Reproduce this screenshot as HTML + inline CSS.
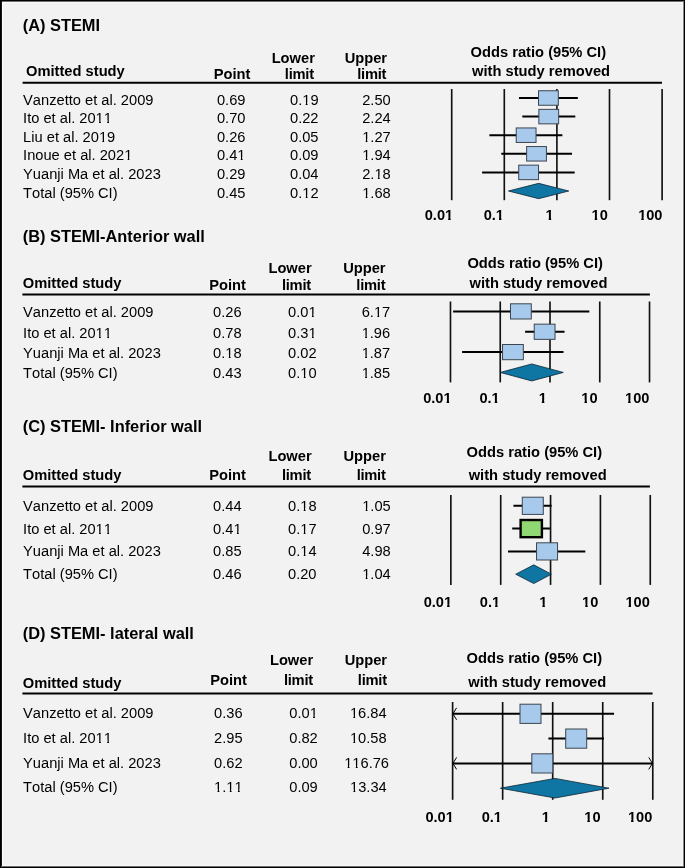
<!DOCTYPE html>
<html><head><meta charset="utf-8"><style>
html,body{margin:0;padding:0;}
body{width:685px;height:868px;position:relative;overflow:hidden;background:#f2f2f2;font-family:"Liberation Sans", sans-serif;color:#000;font-kerning:none;font-feature-settings:'kern' 0;}
.b{position:absolute;}
.t{position:absolute;white-space:nowrap;}
.txt{position:absolute;left:0;top:0;width:685px;height:868px;will-change:transform;}
svg{position:absolute;left:0;top:0;}
.or{clip-path:polygon(-3px -3px,11.23px -3px,11.23px 10px,5.28px 10px,5.28px 20px,3.47px 20px,3.47px 10px,-3px 10px);}
.ob{clip-path:polygon(-3px -3px,11.06px -3px,11.06px 10px,5.62px 10px,5.62px 20px,3.13px 20px,3.13px 10px,-3px 10px);}

</style></head><body>
<div class="b" style="left:0;top:0;width:685px;height:1px;background:#000"></div>
<div class="b" style="left:2px;top:1px;width:681px;height:1px;background:#6e6e6e"></div>
<div class="b" style="left:3px;top:2px;width:679px;height:1px;background:#fbfbfb"></div>
<div class="b" style="left:0;top:0;width:1px;height:868px;background:#000"></div>
<div class="b" style="left:1px;top:1px;width:1px;height:866px;background:#161616"></div>
<div class="b" style="left:2px;top:2px;width:1px;height:864px;background:#fdfdfd"></div>
<div class="b" style="left:684px;top:0;width:1px;height:868px;background:#000"></div>
<div class="b" style="left:683px;top:1px;width:1px;height:866px;background:#858585"></div>
<div class="b" style="left:682px;top:2px;width:1px;height:864px;background:#f7f7f7"></div>
<div class="b" style="left:0;top:867px;width:685px;height:1px;background:#000"></div>
<div class="b" style="left:1px;top:866px;width:683px;height:1px;background:#6a6a6a"></div>
<div class="b" style="left:3px;top:865px;width:679px;height:1px;background:#f9f9f9"></div>
<svg width="685" height="868" viewBox="0 0 685 868">
<line x1="22.60" y1="82.70" x2="662.00" y2="82.70" stroke="#000" stroke-width="2"/>
<line x1="451.70" y1="89.00" x2="451.70" y2="200.20" stroke="#111" stroke-width="1.65"/>
<line x1="504.30" y1="89.00" x2="504.30" y2="200.20" stroke="#111" stroke-width="1.65"/>
<line x1="556.90" y1="89.00" x2="556.90" y2="200.20" stroke="#111" stroke-width="1.65"/>
<line x1="609.50" y1="89.00" x2="609.50" y2="200.20" stroke="#111" stroke-width="1.65"/>
<line x1="662.10" y1="89.00" x2="662.10" y2="200.20" stroke="#111" stroke-width="1.65"/>
<line x1="518.96" y1="98.00" x2="577.83" y2="98.00" stroke="#000" stroke-width="2"/>
<rect x="538.52" y="90.75" width="19.80" height="14.50" fill="#a6c9ec" stroke="#3c4650" stroke-width="1"/>
<line x1="522.31" y1="116.60" x2="575.32" y2="116.60" stroke="#000" stroke-width="2"/>
<rect x="538.85" y="109.35" width="19.80" height="14.50" fill="#a6c9ec" stroke="#3c4650" stroke-width="1"/>
<line x1="489.40" y1="135.20" x2="562.36" y2="135.20" stroke="#000" stroke-width="2"/>
<rect x="516.23" y="127.95" width="19.80" height="14.50" fill="#a6c9ec" stroke="#3c4650" stroke-width="1"/>
<line x1="501.30" y1="153.80" x2="572.04" y2="153.80" stroke="#000" stroke-width="2"/>
<rect x="526.63" y="146.55" width="19.80" height="14.50" fill="#a6c9ec" stroke="#3c4650" stroke-width="1"/>
<line x1="482.10" y1="172.40" x2="574.70" y2="172.40" stroke="#000" stroke-width="2"/>
<rect x="518.72" y="165.15" width="19.80" height="14.50" fill="#a6c9ec" stroke="#3c4650" stroke-width="1"/>
<polygon points="508.46,191.00 538.66,183.35 568.75,191.00 538.66,198.65" fill="#0f75a3" stroke="#0d2633" stroke-width="0.8"/>
<line x1="22.40" y1="294.40" x2="649.90" y2="294.40" stroke="#000" stroke-width="2"/>
<line x1="450.48" y1="301.50" x2="450.48" y2="382.40" stroke="#111" stroke-width="1.65"/>
<line x1="500.24" y1="301.50" x2="500.24" y2="382.40" stroke="#111" stroke-width="1.65"/>
<line x1="550.00" y1="301.50" x2="550.00" y2="382.40" stroke="#111" stroke-width="1.65"/>
<line x1="599.76" y1="301.50" x2="599.76" y2="382.40" stroke="#111" stroke-width="1.65"/>
<line x1="649.52" y1="301.50" x2="649.52" y2="382.40" stroke="#111" stroke-width="1.65"/>
<line x1="453.10" y1="311.40" x2="589.32" y2="311.40" stroke="#000" stroke-width="2"/>
<rect x="510.49" y="303.80" width="20.80" height="15.20" fill="#a6c9ec" stroke="#3c4650" stroke-width="1"/>
<line x1="525.10" y1="331.75" x2="564.54" y2="331.75" stroke="#000" stroke-width="2"/>
<rect x="534.23" y="324.15" width="20.80" height="15.20" fill="#a6c9ec" stroke="#3c4650" stroke-width="1"/>
<line x1="462.10" y1="352.10" x2="563.53" y2="352.10" stroke="#000" stroke-width="2"/>
<rect x="502.54" y="344.50" width="20.80" height="15.20" fill="#a6c9ec" stroke="#3c4650" stroke-width="1"/>
<polygon points="500.24,372.45 531.76,363.95 563.29,372.45 531.76,380.95" fill="#0f75a3" stroke="#0d2633" stroke-width="0.8"/>
<line x1="22.40" y1="486.50" x2="649.90" y2="486.50" stroke="#000" stroke-width="2"/>
<line x1="450.86" y1="495.00" x2="450.86" y2="584.90" stroke="#111" stroke-width="1.65"/>
<line x1="500.71" y1="495.00" x2="500.71" y2="584.90" stroke="#111" stroke-width="1.65"/>
<line x1="550.56" y1="495.00" x2="550.56" y2="584.90" stroke="#111" stroke-width="1.65"/>
<line x1="600.41" y1="495.00" x2="600.41" y2="584.90" stroke="#111" stroke-width="1.65"/>
<line x1="650.26" y1="495.00" x2="650.26" y2="584.90" stroke="#111" stroke-width="1.65"/>
<line x1="513.44" y1="505.80" x2="551.62" y2="505.80" stroke="#000" stroke-width="2"/>
<rect x="522.29" y="497.20" width="21.00" height="17.20" fill="#a6c9ec" stroke="#3c4650" stroke-width="1"/>
<line x1="512.20" y1="528.60" x2="549.90" y2="528.60" stroke="#000" stroke-width="2"/>
<rect x="520.61" y="520.00" width="21.30" height="17.20" fill="#8fd874" stroke="#000" stroke-width="2.4"/>
<line x1="507.99" y1="551.40" x2="585.32" y2="551.40" stroke="#000" stroke-width="2"/>
<rect x="536.54" y="542.80" width="21.00" height="17.20" fill="#a6c9ec" stroke="#3c4650" stroke-width="1"/>
<polygon points="515.72,574.20 533.75,564.85 551.41,574.20 533.75,583.55" fill="#0f75a3" stroke="#0d2633" stroke-width="0.8"/>
<line x1="22.40" y1="693.40" x2="652.60" y2="693.40" stroke="#000" stroke-width="2"/>
<line x1="452.62" y1="702.00" x2="452.62" y2="799.80" stroke="#111" stroke-width="1.65"/>
<line x1="502.66" y1="702.00" x2="502.66" y2="799.80" stroke="#111" stroke-width="1.65"/>
<line x1="552.70" y1="702.00" x2="552.70" y2="799.80" stroke="#111" stroke-width="1.65"/>
<line x1="602.74" y1="702.00" x2="602.74" y2="799.80" stroke="#111" stroke-width="1.65"/>
<line x1="652.78" y1="702.00" x2="652.78" y2="799.80" stroke="#111" stroke-width="1.65"/>
<line x1="452.62" y1="713.80" x2="614.07" y2="713.80" stroke="#000" stroke-width="2"/>
<polyline points="456.62,707.80 452.92,713.80 456.62,719.80" fill="none" stroke="#000" stroke-width="1"/>
<rect x="520.00" y="704.20" width="21.00" height="19.20" fill="#a6c9ec" stroke="#3c4650" stroke-width="1"/>
<line x1="548.39" y1="738.60" x2="603.97" y2="738.60" stroke="#000" stroke-width="2"/>
<rect x="565.71" y="729.00" width="21.00" height="19.20" fill="#a6c9ec" stroke="#3c4650" stroke-width="1"/>
<line x1="452.62" y1="763.40" x2="652.78" y2="763.40" stroke="#000" stroke-width="2"/>
<polyline points="456.62,757.40 452.92,763.40 456.62,769.40" fill="none" stroke="#000" stroke-width="1"/>
<polyline points="648.78,757.40 652.48,763.40 648.78,769.40" fill="none" stroke="#000" stroke-width="1"/>
<rect x="531.81" y="753.80" width="21.00" height="19.20" fill="#a6c9ec" stroke="#3c4650" stroke-width="1"/>
<polygon points="500.37,788.20 554.97,778.40 609.00,788.20 554.97,798.00" fill="#0f75a3" stroke="#0d2633" stroke-width="0.8"/>
</svg>
<div class="txt">
<div class="t" style="left:22.68px;top:17.00px;font-size:16.4px;line-height:16.4px;font-weight:bold;">(A) STEMI</div>
<div class="t" style="left:26.01px;top:64.00px;font-size:14.7px;line-height:14.7px;font-weight:bold;">Omitted study</div>
<div class="t" style="left:213.64px;top:67.00px;font-size:14.7px;line-height:14.7px;font-weight:bold;">Point</div>
<div class="t" style="left:271.63px;top:51.00px;font-size:14.7px;line-height:14.7px;font-weight:bold;">Lower</div>
<div class="t" style="left:284.84px;top:67.00px;font-size:14.7px;line-height:14.7px;font-weight:bold;letter-spacing:-0.25px;">limit</div>
<div class="t" style="left:344.64px;top:51.00px;font-size:14.7px;line-height:14.7px;font-weight:bold;">Upper</div>
<div class="t" style="left:357.24px;top:67.00px;font-size:14.7px;line-height:14.7px;font-weight:bold;letter-spacing:-0.25px;">limit</div>
<div class="t" style="left:470.61px;top:45.00px;font-size:14.7px;line-height:14.7px;font-weight:bold;">Odds ratio (95% CI)</div>
<div class="t" style="left:472.10px;top:64.00px;font-size:14.7px;line-height:14.7px;font-weight:bold;">with study removed</div>
<div class="t" style="left:23.10px;top:93.00px;font-size:14.67px;line-height:14.67px;">Vanzetto et al. 2009</div>
<div class="t" style="left:216.95px;top:93.00px;font-size:14.67px;line-height:14.67px;">0.69</div>
<div class="t" style="left:290.00px;top:93.00px;font-size:14.67px;line-height:14.67px;">0.<span class="or">1</span>9</div>
<div class="t" style="left:362.20px;top:93.00px;font-size:14.67px;line-height:14.67px;">2.50</div>
<div class="t" style="left:23.10px;top:111.00px;font-size:14.67px;line-height:14.67px;">Ito et al. 20<span class="or">1</span><span class="or">1</span></div>
<div class="t" style="left:216.95px;top:111.00px;font-size:14.67px;line-height:14.67px;">0.70</div>
<div class="t" style="left:290.00px;top:111.00px;font-size:14.67px;line-height:14.67px;">0.22</div>
<div class="t" style="left:362.20px;top:111.00px;font-size:14.67px;line-height:14.67px;">2.24</div>
<div class="t" style="left:23.10px;top:130.00px;font-size:14.67px;line-height:14.67px;">Liu et al. 20<span class="or">1</span>9</div>
<div class="t" style="left:216.95px;top:130.00px;font-size:14.67px;line-height:14.67px;">0.26</div>
<div class="t" style="left:290.00px;top:130.00px;font-size:14.67px;line-height:14.67px;">0.05</div>
<div class="t" style="left:362.20px;top:130.00px;font-size:14.67px;line-height:14.67px;"><span class="or">1</span>.27</div>
<div class="t" style="left:23.10px;top:148.00px;font-size:14.67px;line-height:14.67px;">Inoue et al. 202<span class="or">1</span></div>
<div class="t" style="left:216.95px;top:148.00px;font-size:14.67px;line-height:14.67px;">0.4<span class="or">1</span></div>
<div class="t" style="left:290.00px;top:148.00px;font-size:14.67px;line-height:14.67px;">0.09</div>
<div class="t" style="left:362.20px;top:148.00px;font-size:14.67px;line-height:14.67px;"><span class="or">1</span>.94</div>
<div class="t" style="left:23.10px;top:167.00px;font-size:14.67px;line-height:14.67px;">Yuanji Ma et al. 2023</div>
<div class="t" style="left:216.95px;top:167.00px;font-size:14.67px;line-height:14.67px;">0.29</div>
<div class="t" style="left:290.00px;top:167.00px;font-size:14.67px;line-height:14.67px;">0.04</div>
<div class="t" style="left:362.20px;top:167.00px;font-size:14.67px;line-height:14.67px;">2.<span class="or">1</span>8</div>
<div class="t" style="left:23.10px;top:186.00px;font-size:14.67px;line-height:14.67px;">Total (95% CI)</div>
<div class="t" style="left:216.95px;top:186.00px;font-size:14.67px;line-height:14.67px;">0.45</div>
<div class="t" style="left:290.00px;top:186.00px;font-size:14.67px;line-height:14.67px;">0.<span class="or">1</span>2</div>
<div class="t" style="left:362.20px;top:186.00px;font-size:14.67px;line-height:14.67px;"><span class="or">1</span>.68</div>
<div class="t" style="left:424.75px;top:208.00px;font-size:14.6px;line-height:14.6px;font-weight:bold;">0.0<span class="ob">1</span></div>
<div class="t" style="left:483.68px;top:208.00px;font-size:14.6px;line-height:14.6px;font-weight:bold;">0.<span class="ob">1</span></div>
<div class="t" style="left:545.56px;top:208.00px;font-size:14.6px;line-height:14.6px;font-weight:bold;"><span class="ob">1</span></div>
<div class="t" style="left:591.56px;top:208.00px;font-size:14.6px;line-height:14.6px;font-weight:bold;"><span class="ob">1</span>0</div>
<div class="t" style="left:638.13px;top:208.00px;font-size:14.6px;line-height:14.6px;font-weight:bold;"><span class="ob">1</span>00</div>
<div class="t" style="left:22.68px;top:228.00px;font-size:16.4px;line-height:16.4px;font-weight:bold;">(B) STEMI-Anterior wall</div>
<div class="t" style="left:22.71px;top:276.00px;font-size:14.7px;line-height:14.7px;font-weight:bold;">Omitted study</div>
<div class="t" style="left:209.24px;top:278.00px;font-size:14.7px;line-height:14.7px;font-weight:bold;">Point</div>
<div class="t" style="left:268.43px;top:261.00px;font-size:14.7px;line-height:14.7px;font-weight:bold;">Lower</div>
<div class="t" style="left:281.94px;top:278.00px;font-size:14.7px;line-height:14.7px;font-weight:bold;letter-spacing:-0.25px;">limit</div>
<div class="t" style="left:343.14px;top:261.00px;font-size:14.7px;line-height:14.7px;font-weight:bold;">Upper</div>
<div class="t" style="left:356.34px;top:278.00px;font-size:14.7px;line-height:14.7px;font-weight:bold;letter-spacing:-0.25px;">limit</div>
<div class="t" style="left:467.41px;top:256.00px;font-size:14.7px;line-height:14.7px;font-weight:bold;">Odds ratio (95% CI)</div>
<div class="t" style="left:469.50px;top:276.00px;font-size:14.7px;line-height:14.7px;font-weight:bold;">with study removed</div>
<div class="t" style="left:23.10px;top:305.00px;font-size:14.67px;line-height:14.67px;">Vanzetto et al. 2009</div>
<div class="t" style="left:213.10px;top:305.00px;font-size:14.67px;line-height:14.67px;">0.26</div>
<div class="t" style="left:288.10px;top:305.00px;font-size:14.67px;line-height:14.67px;">0.0<span class="or">1</span></div>
<div class="t" style="left:361.65px;top:305.00px;font-size:14.67px;line-height:14.67px;">6.<span class="or">1</span>7</div>
<div class="t" style="left:23.10px;top:326.00px;font-size:14.67px;line-height:14.67px;">Ito et al. 20<span class="or">1</span><span class="or">1</span></div>
<div class="t" style="left:213.10px;top:326.00px;font-size:14.67px;line-height:14.67px;">0.78</div>
<div class="t" style="left:288.10px;top:326.00px;font-size:14.67px;line-height:14.67px;">0.3<span class="or">1</span></div>
<div class="t" style="left:361.65px;top:326.00px;font-size:14.67px;line-height:14.67px;"><span class="or">1</span>.96</div>
<div class="t" style="left:23.10px;top:346.00px;font-size:14.67px;line-height:14.67px;">Yuanji Ma et al. 2023</div>
<div class="t" style="left:213.10px;top:346.00px;font-size:14.67px;line-height:14.67px;">0.<span class="or">1</span>8</div>
<div class="t" style="left:288.10px;top:346.00px;font-size:14.67px;line-height:14.67px;">0.02</div>
<div class="t" style="left:361.65px;top:346.00px;font-size:14.67px;line-height:14.67px;"><span class="or">1</span>.87</div>
<div class="t" style="left:23.10px;top:366.00px;font-size:14.67px;line-height:14.67px;">Total (95% CI)</div>
<div class="t" style="left:213.10px;top:366.00px;font-size:14.67px;line-height:14.67px;">0.43</div>
<div class="t" style="left:288.10px;top:366.00px;font-size:14.67px;line-height:14.67px;">0.<span class="or">1</span>0</div>
<div class="t" style="left:361.65px;top:366.00px;font-size:14.67px;line-height:14.67px;"><span class="or">1</span>.85</div>
<div class="t" style="left:423.20px;top:391.00px;font-size:14.6px;line-height:14.6px;font-weight:bold;">0.0<span class="ob">1</span></div>
<div class="t" style="left:479.43px;top:391.00px;font-size:14.6px;line-height:14.6px;font-weight:bold;">0.<span class="ob">1</span></div>
<div class="t" style="left:538.71px;top:391.00px;font-size:14.6px;line-height:14.6px;font-weight:bold;"><span class="ob">1</span></div>
<div class="t" style="left:581.36px;top:391.00px;font-size:14.6px;line-height:14.6px;font-weight:bold;"><span class="ob">1</span>0</div>
<div class="t" style="left:625.03px;top:391.00px;font-size:14.6px;line-height:14.6px;font-weight:bold;"><span class="ob">1</span>00</div>
<div class="t" style="left:22.68px;top:418.00px;font-size:16.4px;line-height:16.4px;font-weight:bold;">(C) STEMI- Inferior wall</div>
<div class="t" style="left:22.71px;top:468.00px;font-size:14.7px;line-height:14.7px;font-weight:bold;">Omitted study</div>
<div class="t" style="left:209.24px;top:468.00px;font-size:14.7px;line-height:14.7px;font-weight:bold;">Point</div>
<div class="t" style="left:268.43px;top:449.00px;font-size:14.7px;line-height:14.7px;font-weight:bold;">Lower</div>
<div class="t" style="left:281.94px;top:468.00px;font-size:14.7px;line-height:14.7px;font-weight:bold;letter-spacing:-0.25px;">limit</div>
<div class="t" style="left:343.44px;top:449.00px;font-size:14.7px;line-height:14.7px;font-weight:bold;">Upper</div>
<div class="t" style="left:356.64px;top:468.00px;font-size:14.7px;line-height:14.7px;font-weight:bold;letter-spacing:-0.25px;">limit</div>
<div class="t" style="left:466.61px;top:445.00px;font-size:14.7px;line-height:14.7px;font-weight:bold;">Odds ratio (95% CI)</div>
<div class="t" style="left:468.70px;top:468.00px;font-size:14.7px;line-height:14.7px;font-weight:bold;">with study removed</div>
<div class="t" style="left:23.10px;top:499.00px;font-size:14.67px;line-height:14.67px;">Vanzetto et al. 2009</div>
<div class="t" style="left:213.10px;top:499.00px;font-size:14.67px;line-height:14.67px;">0.44</div>
<div class="t" style="left:288.00px;top:499.00px;font-size:14.67px;line-height:14.67px;">0.<span class="or">1</span>8</div>
<div class="t" style="left:362.20px;top:499.00px;font-size:14.67px;line-height:14.67px;"><span class="or">1</span>.05</div>
<div class="t" style="left:23.10px;top:522.00px;font-size:14.67px;line-height:14.67px;">Ito et al. 20<span class="or">1</span><span class="or">1</span></div>
<div class="t" style="left:213.10px;top:522.00px;font-size:14.67px;line-height:14.67px;">0.4<span class="or">1</span></div>
<div class="t" style="left:288.00px;top:522.00px;font-size:14.67px;line-height:14.67px;">0.<span class="or">1</span>7</div>
<div class="t" style="left:362.20px;top:522.00px;font-size:14.67px;line-height:14.67px;">0.97</div>
<div class="t" style="left:23.10px;top:544.00px;font-size:14.67px;line-height:14.67px;">Yuanji Ma et al. 2023</div>
<div class="t" style="left:213.10px;top:544.00px;font-size:14.67px;line-height:14.67px;">0.85</div>
<div class="t" style="left:288.00px;top:544.00px;font-size:14.67px;line-height:14.67px;">0.<span class="or">1</span>4</div>
<div class="t" style="left:362.20px;top:544.00px;font-size:14.67px;line-height:14.67px;">4.98</div>
<div class="t" style="left:23.10px;top:567.00px;font-size:14.67px;line-height:14.67px;">Total (95% CI)</div>
<div class="t" style="left:213.10px;top:567.00px;font-size:14.67px;line-height:14.67px;">0.46</div>
<div class="t" style="left:288.00px;top:567.00px;font-size:14.67px;line-height:14.67px;">0.20</div>
<div class="t" style="left:362.20px;top:567.00px;font-size:14.67px;line-height:14.67px;"><span class="or">1</span>.04</div>
<div class="t" style="left:423.70px;top:595.00px;font-size:14.6px;line-height:14.6px;font-weight:bold;">0.0<span class="ob">1</span></div>
<div class="t" style="left:479.83px;top:595.00px;font-size:14.6px;line-height:14.6px;font-weight:bold;">0.<span class="ob">1</span></div>
<div class="t" style="left:539.26px;top:595.00px;font-size:14.6px;line-height:14.6px;font-weight:bold;"><span class="ob">1</span></div>
<div class="t" style="left:582.11px;top:595.00px;font-size:14.6px;line-height:14.6px;font-weight:bold;"><span class="ob">1</span>0</div>
<div class="t" style="left:625.43px;top:595.00px;font-size:14.6px;line-height:14.6px;font-weight:bold;"><span class="ob">1</span>00</div>
<div class="t" style="left:22.68px;top:625.00px;font-size:16.4px;line-height:16.4px;font-weight:bold;">(D) STEMI- lateral wall</div>
<div class="t" style="left:22.71px;top:676.00px;font-size:14.7px;line-height:14.7px;font-weight:bold;">Omitted study</div>
<div class="t" style="left:210.14px;top:673.00px;font-size:14.7px;line-height:14.7px;font-weight:bold;">Point</div>
<div class="t" style="left:269.93px;top:653.00px;font-size:14.7px;line-height:14.7px;font-weight:bold;">Lower</div>
<div class="t" style="left:283.94px;top:673.00px;font-size:14.7px;line-height:14.7px;font-weight:bold;letter-spacing:-0.25px;">limit</div>
<div class="t" style="left:344.64px;top:653.00px;font-size:14.7px;line-height:14.7px;font-weight:bold;">Upper</div>
<div class="t" style="left:357.84px;top:673.00px;font-size:14.7px;line-height:14.7px;font-weight:bold;letter-spacing:-0.25px;">limit</div>
<div class="t" style="left:466.61px;top:651.00px;font-size:14.7px;line-height:14.7px;font-weight:bold;">Odds ratio (95% CI)</div>
<div class="t" style="left:468.30px;top:675.00px;font-size:14.7px;line-height:14.7px;font-weight:bold;">with study removed</div>
<div class="t" style="left:23.10px;top:706.00px;font-size:14.67px;line-height:14.67px;">Vanzetto et al. 2009</div>
<div class="t" style="left:214.05px;top:706.00px;font-size:14.67px;line-height:14.67px;">0.36</div>
<div class="t" style="left:289.25px;top:706.00px;font-size:14.67px;line-height:14.67px;">0.0<span class="or">1</span></div>
<div class="t" style="left:349.90px;top:706.00px;font-size:14.67px;line-height:14.67px;"><span class="or">1</span>6.84</div>
<div class="t" style="left:23.10px;top:731.00px;font-size:14.67px;line-height:14.67px;">Ito et al. 20<span class="or">1</span><span class="or">1</span></div>
<div class="t" style="left:214.05px;top:731.00px;font-size:14.67px;line-height:14.67px;">2.95</div>
<div class="t" style="left:289.25px;top:731.00px;font-size:14.67px;line-height:14.67px;">0.82</div>
<div class="t" style="left:349.90px;top:731.00px;font-size:14.67px;line-height:14.67px;"><span class="or">1</span>0.58</div>
<div class="t" style="left:23.10px;top:756.00px;font-size:14.67px;line-height:14.67px;">Yuanji Ma et al. 2023</div>
<div class="t" style="left:214.05px;top:756.00px;font-size:14.67px;line-height:14.67px;">0.62</div>
<div class="t" style="left:289.25px;top:756.00px;font-size:14.67px;line-height:14.67px;">0.00</div>
<div class="t" style="left:344.20px;top:756.00px;font-size:14.67px;line-height:14.67px;"><span class="or">1</span><span class="or">1</span>6.76</div>
<div class="t" style="left:23.10px;top:780.00px;font-size:14.67px;line-height:14.67px;">Total (95% CI)</div>
<div class="t" style="left:214.05px;top:780.00px;font-size:14.67px;line-height:14.67px;"><span class="or">1</span>.<span class="or">1</span><span class="or">1</span></div>
<div class="t" style="left:289.25px;top:780.00px;font-size:14.67px;line-height:14.67px;">0.09</div>
<div class="t" style="left:350.00px;top:780.00px;font-size:14.67px;line-height:14.67px;"><span class="or">1</span>3.34</div>
<div class="t" style="left:425.45px;top:810.00px;font-size:14.6px;line-height:14.6px;font-weight:bold;">0.0<span class="ob">1</span></div>
<div class="t" style="left:481.63px;top:810.00px;font-size:14.6px;line-height:14.6px;font-weight:bold;">0.<span class="ob">1</span></div>
<div class="t" style="left:541.66px;top:810.00px;font-size:14.6px;line-height:14.6px;font-weight:bold;"><span class="ob">1</span></div>
<div class="t" style="left:584.26px;top:810.00px;font-size:14.6px;line-height:14.6px;font-weight:bold;"><span class="ob">1</span>0</div>
<div class="t" style="left:627.93px;top:810.00px;font-size:14.6px;line-height:14.6px;font-weight:bold;"><span class="ob">1</span>00</div>
</div>
</body></html>
